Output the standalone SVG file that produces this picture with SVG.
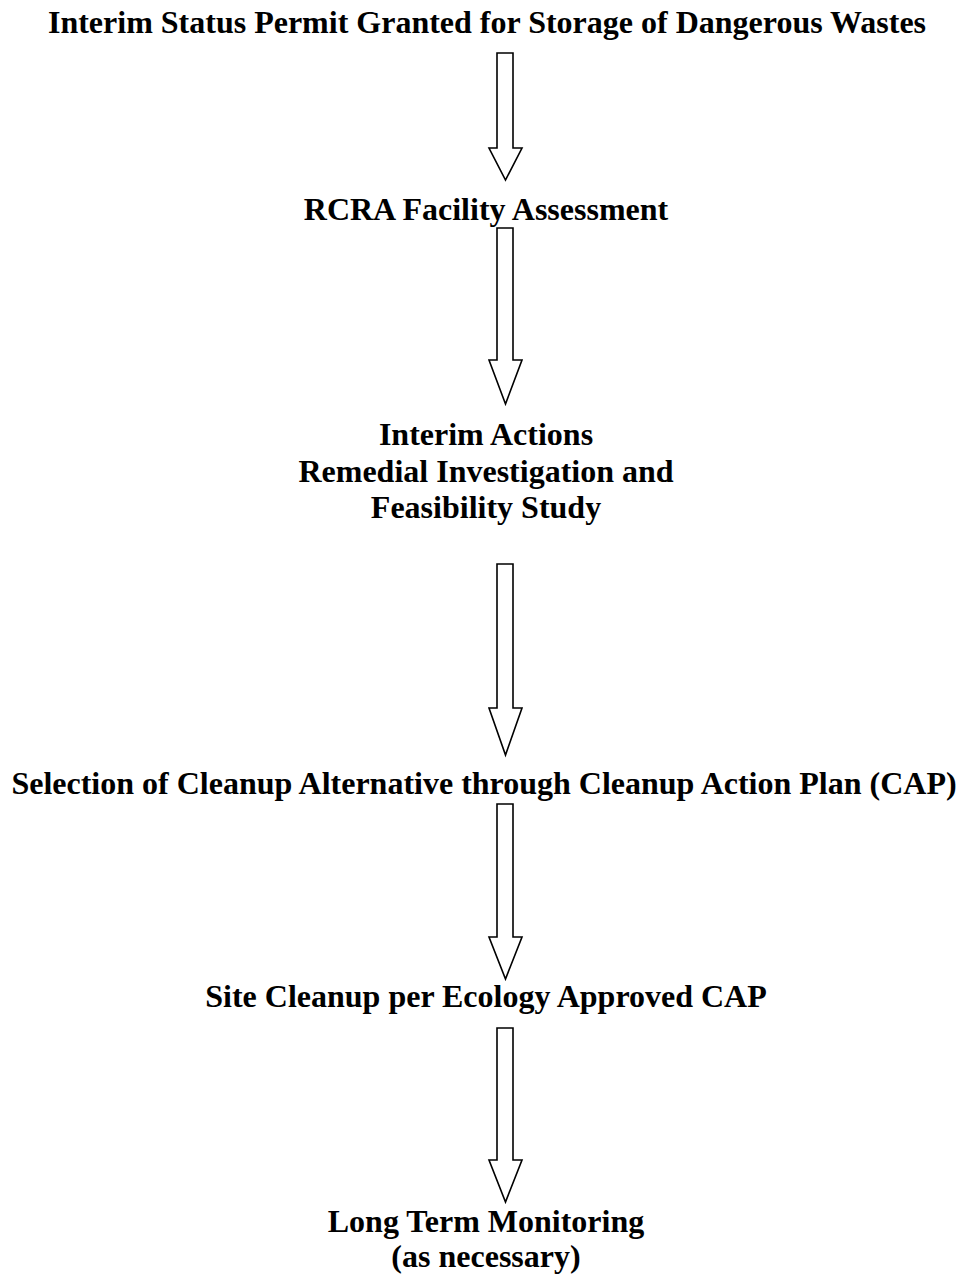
<svg xmlns="http://www.w3.org/2000/svg" width="965" height="1275" viewBox="0 0 965 1275">
<style>
.t{font-family:"Liberation Serif","Times New Roman",serif;font-weight:bold;font-size:32px;fill:#000;text-anchor:middle}
.a{fill:#fff;stroke:#000;stroke-width:1.6;stroke-linejoin:miter}
</style>
<rect width="965" height="1275" fill="#fff"/>
<g id="connectors">
<path class="a" d="M497,53 H513 V148 H522 L505.5,180 L489,148 H497 Z"/>
<path class="a" d="M497,228 H513 V360 H522 L505.5,404 L489,360 H497 Z"/>
<path class="a" d="M497,564 H513 V708 H522 L505.5,755 L489,708 H497 Z"/>
<path class="a" d="M497,804 H513 V937 H522 L505.5,979 L489,937 H497 Z"/>
<path class="a" d="M497,1028 H513 V1160 H522 L505.5,1202 L489,1160 H497 Z"/>
</g>
<g id="n1"><text class="t" x="487" y="33">Interim Status Permit Granted for Storage of Dangerous Wastes</text></g>
<g id="n2"><text class="t" x="486" y="220">RCRA Facility Assessment</text></g>
<g id="n3"><text class="t" x="486" y="445">Interim Actions</text><text class="t" x="486" y="482">Remedial Investigation and</text><text class="t" x="486" y="518">Feasibility Study</text></g>
<g id="n4"><text class="t" x="484" y="794">Selection of Cleanup Alternative through Cleanup Action Plan (CAP)</text></g>
<g id="n5"><text class="t" x="486" y="1007">Site Cleanup per Ecology Approved CAP</text></g>
<g id="n6"><text class="t" x="486" y="1232">Long Term Monitoring</text><text class="t" x="486" y="1267">(as necessary)</text></g>
</svg>
